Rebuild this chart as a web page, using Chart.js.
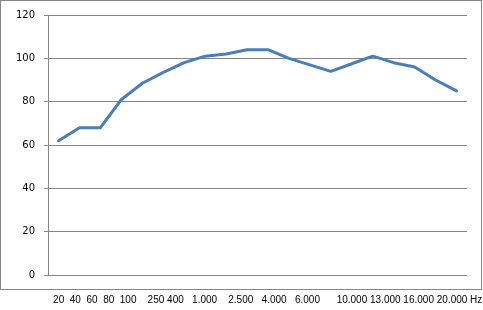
<!DOCTYPE html>
<html lang="en">
<head>
    <meta charset="UTF-8">
    <title>Frequency Response</title>
    <script src="https://cdn.jsdelivr.net/npm/chart.js"></script>
    <style>
        body {
            margin: 0;
            padding: 0;
            background-color: #ffffff;
        }

        .chart-container {
            position: relative;
            width: 483px;
            height: 310px;
        }
    </style>
</head>
<body>
    <div class="chart-container">
        <canvas id="responseChart"></canvas>
    </div>

    <script>
        // point index along the curve (no tick labels shown on the chart itself)
        const categories = ['1', '2', '3', '4', '5', '6', '7', '8', '9', '10',
                            '11', '12', '13', '14', '15', '16', '17', '18', '19', '20'];
        const levels = [62, 68, 68, 81, 88.5, 93.5, 98, 101, 102, 104,
                        104, 100, 97, 94, 97.5, 101, 98, 96, 90, 85];
        const yTicks = [0, 20, 40, 60, 80, 100, 120];
        // frequency captions printed under the frame
        const freqLabels = ['20', '40', '60', '80', '100', '250', '400', '1.000', '2.500',
                            '4.000', '6.000', '10.000', '13.000', '16.000', '20.000', 'Hz'];
        const freqGaps = [2, 2, 2, 2, 4, 1, 3, 4, 3, 3, 6, 1, 1, 1, 1];

        const freqCaption = freqLabels.map((t, i) => t + ' '.repeat(freqGaps[i] || 0)).join('');

        // grey frame round the chart, like the office chart border
        const framePlugin = {
            id: 'frame',
            beforeDraw(chart) {
                const ctx = chart.ctx;
                ctx.save();
                ctx.fillStyle = '#ffffff';
                ctx.fillRect(0, 0, chart.width, chart.height);
                ctx.strokeStyle = '#868686';
                ctx.lineWidth = 1;
                ctx.strokeRect(0.5, 0.5, chart.width - 2, chart.height - 21);
                ctx.restore();
            }
        };

        // the frequency line sits outside the frame, drawn without squeezing
        const captionPlugin = {
            id: 'caption',
            afterDraw(chart) {
                const ctx = chart.ctx;
                ctx.save();
                ctx.fillStyle = '#000000';
                ctx.font = '10px "Liberation Sans", Arial, sans-serif';
                ctx.textAlign = 'left';
                ctx.textBaseline = 'alphabetic';
                ctx.fillText(freqCaption, chart.chartArea.left + 5, chart.height - 7);
                ctx.restore();
            }
        };

        const ctx = document.getElementById('responseChart').getContext('2d');
        new Chart(ctx, {
            type: 'line',
            data: {
                labels: categories,
                datasets: [{
                    data: levels,
                    borderColor: '#4A7EBB',
                    borderWidth: 3,
                    borderJoinStyle: 'round',
                    borderCapStyle: 'round',
                    pointRadius: 0,
                    tension: 0,
                    fill: false
                }]
            },
            options: {
                responsive: true,
                maintainAspectRatio: false,
                animation: false,
                layout: {
                    padding: { left: 7, right: 16, top: 15, bottom: 35 }
                },
                plugins: {
                    legend: { display: false },
                    tooltip: { enabled: false }
                },
                scales: {
                    x: {
                        offset: true,
                        grid: { display: false, drawTicks: false },
                        border: { display: false },
                        ticks: { display: false }
                    },
                    y: {
                        min: yTicks[0],
                        max: yTicks[yTicks.length - 1],
                        afterBuildTicks: axis => {
                            axis.ticks = yTicks.map(v => ({ value: v }));
                        },
                        grid: {
                            color: '#868686',
                            tickLength: 4,
                            tickColor: '#868686'
                        },
                        border: { display: true, color: '#868686' },
                        ticks: {
                            color: '#000000',
                            padding: 9,
                            font: { family: 'DejaVu Sans', size: 10 }
                        }
                    }
                }
            },
            plugins: [framePlugin, captionPlugin]
        });
    </script>
</body>
</html>
